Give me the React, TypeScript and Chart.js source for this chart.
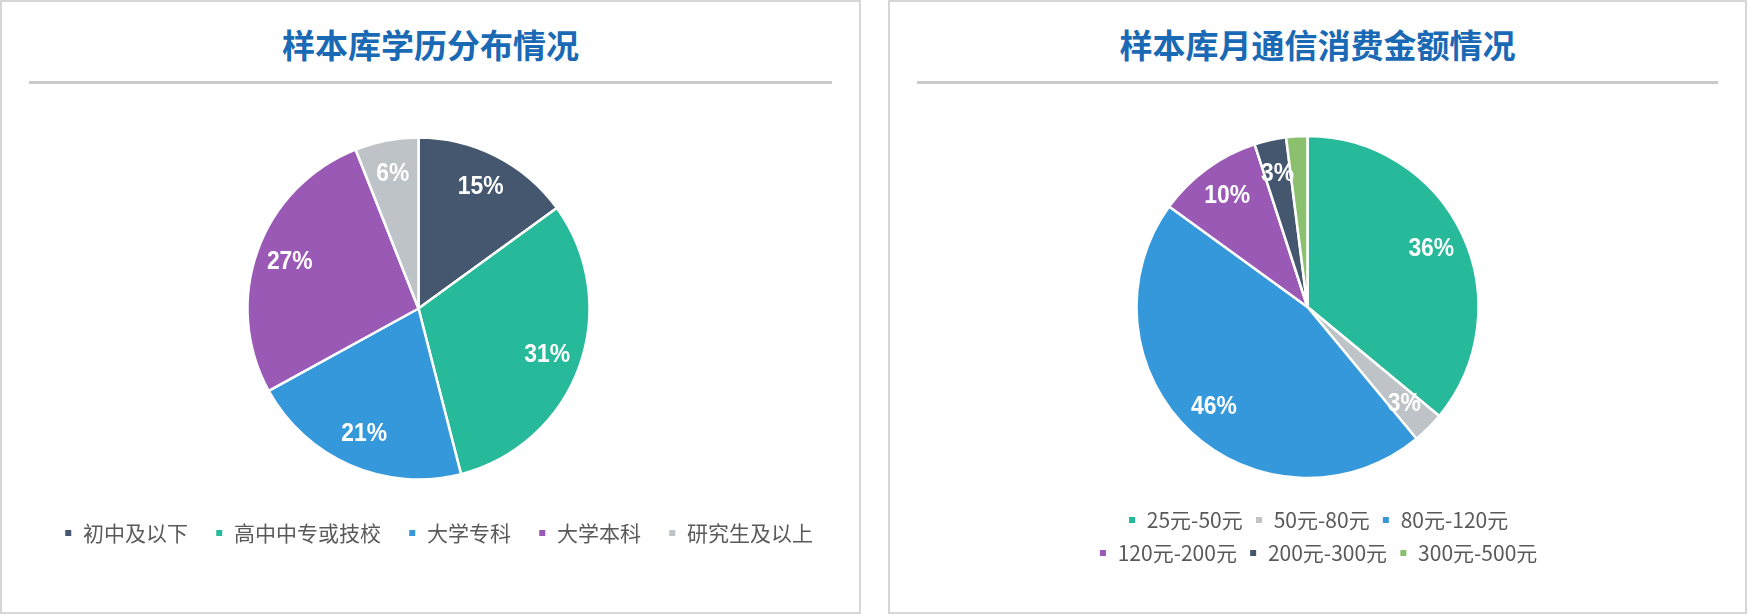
import React, { useEffect, useRef } from "react";
import { Chart, registerables } from "chart.js";

Chart.register(...registerables);

// 学历分布
const eduLabels = ["初中及以下", "高中中专或技校", "大学专科", "大学本科", "研究生及以上"];
const eduValues = [15, 31, 21, 27, 6];
const eduColors = ["#44576e", "#26b99a", "#3498db", "#9b59b6", "#bdc3c7"];

// 月通信消费金额
const feeLabels = ["25元-50元", "50元-80元", "80元-120元", "120元-200元", "200元-300元", "300元-500元"];
const feeValues = [36, 3, 46, 10, 3, 2];
const feeColors = ["#26b99a", "#bdc3c7", "#3498db", "#9b59b6", "#44576e", "#8bc16e"];

// white % labels inside the slices (small slices skipped), slightly condensed
const pctLabels = {
  id: "pctLabels",
  afterDatasetsDraw(chart: any) {
    const ctx = chart.ctx;
    const meta = chart.getDatasetMeta(0);
    const values = chart.data.datasets[0].data as number[];
    meta.data.forEach((arc: any, i: number) => {
      if (values[i] < 3) return;
      const p = arc.getProps(["x", "y", "startAngle", "endAngle", "outerRadius"], true);
      const mid = (p.startAngle + p.endAngle) / 2;
      const r = p.outerRadius * 0.8;
      ctx.save();
      ctx.translate(p.x + Math.cos(mid) * r, p.y + Math.sin(mid) * r);
      ctx.scale(0.88, 1);
      ctx.fillStyle = "#ffffff";
      ctx.font = "bold 26px 'Liberation Sans', Arial, sans-serif";
      ctx.textAlign = "center";
      ctx.textBaseline = "middle";
      ctx.fillText(values[i] + "%", 0, 0);
      ctx.restore();
    });
  },
};

type PieProps = {
  labels: string[];
  values: number[];
  colors: string[];
  padding: { left: number; right: number; top: number; bottom: number };
  legendPad: number;
  shiftRight: number; // empty right-hand title used as a spacer
};

const PieChart = ({ labels, values, colors, padding, legendPad, shiftRight }: PieProps) => {
  const canvasRef = useRef<HTMLCanvasElement>(null);

  useEffect(() => {
    if (!canvasRef.current) return;
    const chart = new Chart(canvasRef.current, {
      type: "pie",
      data: {
        labels,
        datasets: [
          {
            data: values,
            backgroundColor: colors,
            borderColor: "#ffffff",
            borderWidth: 2.5,
            radius: 171,
          },
        ],
      },
      options: {
        animation: false,
        responsive: true,
        maintainAspectRatio: false,
        layout: { padding },
        plugins: {
          tooltip: { enabled: false },
          title: {
            display: true,
            position: "right",
            text: "",
            font: { size: 10 },
            padding: (shiftRight - 12) / 2,
          },
          legend: {
            position: "bottom",
            labels: {
              boxWidth: 8.5,
              boxHeight: 8.5,
              padding: legendPad,
              color: "#595959",
              font: { family: "'Noto Sans CJK SC', sans-serif", size: 21 },
            },
          },
        },
      },
      plugins: [pctLabels],
    });
    return () => {
      chart.destroy();
    };
  }, [labels, values, colors]);

  return <canvas ref={canvasRef} />;
};

const panelStyle = (left: number, width: number): React.CSSProperties => ({
  position: "absolute",
  left,
  top: 0,
  width,
  height: 614,
  border: "2px solid #d6d6d6",
  boxSizing: "border-box",
  background: "#ffffff",
});

const titleStyle: React.CSSProperties = {
  position: "absolute",
  left: 0,
  right: 0,
  top: 20,
  height: 44,
  lineHeight: "44px",
  textAlign: "center",
  fontFamily: "'Noto Sans CJK SC', sans-serif",
  fontWeight: "bold",
  fontSize: 33,
  color: "#1a69b4",
};

const ruleStyle: React.CSSProperties = {
  position: "absolute",
  left: 27,
  right: 27,
  top: 79,
  height: 3,
  background: "#cacaca",
};

export default function App() {
  return (
    <div style={{ position: "absolute", left: 0, top: 0, width: 1749, height: 615, background: "#ffffff" }}>
      <div style={panelStyle(0, 861)}>
        <div style={titleStyle}>样本库学历分布情况</div>
        <div style={ruleStyle} />
        <div style={{ position: "absolute", left: 0, top: 88, width: 857, height: 500 }}>
          <PieChart
            labels={eduLabels}
            values={eduValues}
            colors={eduColors}
            padding={{ left: 16, right: 0, top: 31.5, bottom: 36.5 }}
            legendPad={27}
            shiftRight={40}
          />
        </div>
      </div>
      <div style={panelStyle(888, 859)}>
        <div style={titleStyle}>样本库月通信消费金额情况</div>
        <div style={ruleStyle} />
        <div style={{ position: "absolute", left: 0, top: 88, width: 855, height: 500 }}>
          <PieChart
            labels={feeLabels}
            values={feeValues}
            colors={feeColors}
            padding={{ left: 173, right: 172, top: 26.5, bottom: 16.5 }}
            legendPad={12}
            shiftRight={21}
          />
        </div>
      </div>
    </div>
  );
}
